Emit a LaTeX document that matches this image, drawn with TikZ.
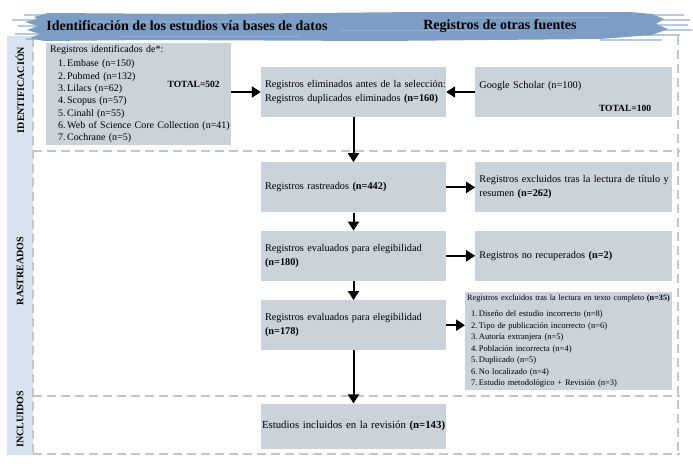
\documentclass[tikz,border=0pt]{standalone}
\usepackage{fontspec}
\setmainfont{Liberation Serif}
\usetikzlibrary{arrows.meta, positioning}

\definecolor{boxgray}{HTML}{CAD2DA}
\definecolor{bandblue}{HTML}{7D9EC4}
\definecolor{sidebarblue}{HTML}{D8E3F0}
\definecolor{sepgray}{HTML}{C6C6C6}

\begin{document}
\begin{tikzpicture}[
    x=1pt, y=-1pt,
    block/.style={rectangle, fill=boxgray, minimum height=50pt, inner xsep=4pt, inner ysep=2pt, align=left, font=\fontsize{10.3}{14}\selectfont},
    mainblock/.style={block, text width=177pt},
    sideblock/.style={block, text width=189pt},
    total/.style={anchor=east, font=\bfseries\fontsize{9.5}{11}\selectfont},
    stage/.style={rotate=90, font=\bfseries\fontsize{10}{12}\selectfont},
    heading/.style={font=\bfseries\fontsize{14}{16}\selectfont},
    sep/.style={draw=sepgray, line width=2.2pt, dash pattern=on 9pt off 5pt},
    line/.style={draw, -{Triangle[length=9pt, width=11pt]}, line width=2pt}
]
\useasboundingbox (0,0) rectangle (693,471);

% Side band and section borders
\fill[sidebarblue] (7,36) rectangle (33,455);
\path[sep] (33,38) -- (33,454);
\path[sep] (678,36) -- (678,454);
\path[sep] (33,151) -- (680,151);
\path[sep] (33,396) -- (680,396);
\path[sep] (33,454) -- (680,454);

% Header band
\fill[bandblue] (34,17) -- (48,13) -- (200,14) -- (420,12) -- (630,12) -- (652,14) -- (664,19) -- (656,24) -- (668,29) -- (652,35) -- (600,39) -- (380,41) -- (150,40) -- (44,41) -- (30,38) -- (40,34) -- (27,30) -- (38,26) -- (25,22) -- (37,19) -- cycle;
\foreach \yb/\xa/\xb in {14/24/60, 19/12/40, 25/18/38, 33/15/40, 38/26/60, 14/640/684, 19/655/690, 24/650/688, 29/660/692, 34/645/680, 39/600/662}
    \fill[bandblue, opacity=0.55] (\xa,\yb) rectangle (\xb,\yb+1.6);
\foreach \yb/\xa/\xb in {21/90/260, 30/340/520, 36/120/300, 17/460/610}
    \fill[white, opacity=0.18] (\xa,\yb) rectangle (\xb,\yb+0.8);

\node[heading] (dbtitle) at (187,26) {Identificación de los estudios vía bases de datos};
\node[heading] (othertitle) at (500,26) {Registros de otras fuentes};

% Stage labels
\node[stage] (ident) at (20,90) {IDENTIFICACIÓN};
\node[stage] (screen) at (20,271) {RASTREADOS};
\node[stage] (incl) at (20,419) {INCLUIDOS};

% Identification
\node[mainblock, minimum height=102pt, font=\fontsize{10}{12.3}\selectfont] (sources) at (138.5,94) {Registros identificados de*:\\[2.5pt]
    \mbox{\hspace*{8pt}1.\,Embase (n=150)}\\
    \mbox{\hspace*{8pt}2.\,Pubmed (n=132)}\\
    \mbox{\hspace*{8pt}3.\,Lilacs (n=62)}\\
    \mbox{\hspace*{8pt}4.\,Scopus (n=57)}\\
    \mbox{\hspace*{8pt}5.\,Cinahl (n=55)}\\
    \mbox{\hspace*{8pt}6.\,Web of Science Core Collection (n=41)}\\
    \mbox{\hspace*{8pt}7.\,Cochrane (n=5)}\\[3pt]};
\node[total] (srctotal) at ([xshift=-8pt, yshift=10pt]sources.east) {TOTAL=502};

\node[mainblock] (removed) at (353.5,92) {\mbox{Registros eliminados antes de la selección:}\\Registros duplicados eliminados \textbf{(n=160)}};
\node[sideblock, right=29pt of removed] (scholar) {Google Scholar (n=100)\\\mbox{}};
\node[total] (gstotal) at ([xshift=-18pt, yshift=-16pt]scholar.east) {TOTAL=100};

% Screening
\node[mainblock, below=45pt of removed] (screened) {Registros rastreados \textbf{(n=442)}};
\node[sideblock, right=29pt of screened] (excluded) {\mbox{Registros excluidos tras la lectura de título y}\\resumen \textbf{(n=262)}};
\node[mainblock, below=18pt of screened] (assessed) {Registros evaluados para elegibilidad\\\textbf{(n=180)}};
\node[sideblock, right=29pt of assessed] (notretrieved) {Registros no recuperados \textbf{(n=2)}};
\node[mainblock, below=19pt of assessed] (eligible) {Registros evaluados para elegibilidad\\\textbf{(n=178)}};
\node[block, anchor=north west, text width=203pt, minimum height=98pt, inner xsep=2pt, inner ysep=1pt, font=\fontsize{8.5}{11.5}\selectfont] (fulltext) at (465,292) {\mbox{\fontsize{8.2}{11.5}\selectfont Registros excluidos tras la lectura en texto completo \textbf{(n=35)}}\\[5pt]
    \hspace*{4pt}1.\,Diseño del estudio incorrecto (n=8)\\
    \hspace*{4pt}2.\,Tipo de publicación incorrecto (n=6)\\
    \hspace*{4pt}3.\,Autoría extranjera (n=5)\\
    \hspace*{4pt}4.\,Población incorrecta (n=4)\\
    \hspace*{4pt}5.\,Duplicado (n=5)\\
    \hspace*{4pt}6.\,No localizado (n=4)\\
    \hspace*{4pt}7.\,Estudio metodológico + Revisión (n=3)};

% Inclusion
\node[mainblock, below=53pt of eligible, minimum height=45pt, text width=183pt, inner xsep=1pt, font=\fontsize{10.8}{13}\selectfont] (included) {\mbox{Estudios incluidos en la revisión \textbf{(n=143)}}};

% Connections
\path [line] (sources.east |- removed.west) -- (removed.west);
\path [line] (scholar.west) -- (removed.east);
\path [line] (removed.south) -- (screened.north);
\path [line] (screened.south) -- (assessed.north);
\path [line] (assessed.south) -- (eligible.north);
\path [line] (eligible.south) -- (included.north);
\path [line] (screened.east) -- (excluded.west);
\path [line] (assessed.east) -- (notretrieved.west);
\path [line] (eligible.east) -- (eligible.east -| fulltext.west);

\end{tikzpicture}
\end{document}
